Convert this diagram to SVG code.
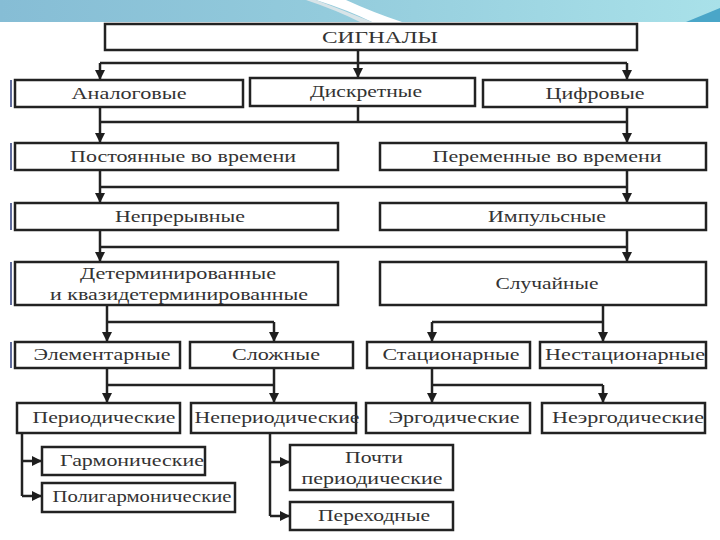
<svg xmlns="http://www.w3.org/2000/svg" width="720" height="540" viewBox="0 0 720 540">
<defs>
<linearGradient id="bg" x1="0" y1="0" x2="1" y2="0">
<stop offset="0" stop-color="#86bdd5"/>
<stop offset="0.45" stop-color="#93cbdc"/>
<stop offset="1" stop-color="#a9e1e9"/>
</linearGradient>
<marker id="ah" viewBox="0 0 10 10" refX="10" refY="5" markerWidth="10" markerHeight="11" markerUnits="userSpaceOnUse" orient="auto">
<path d="M0,0 L10,5 L0,10 z" fill="#1e1e1e"/>
</marker>
<style>
.box{fill:#fff;stroke:#222;stroke-width:2.5}
.t{font-family:"Liberation Serif","Times New Roman",serif;font-size:17px;fill:#333;text-anchor:middle}
.c{fill:none;stroke:#222;stroke-width:2.5}
.a{fill:none;stroke:#222;stroke-width:2.5;marker-end:url(#ah)}
.bar{stroke:#2a3a7a;stroke-width:1.5}
</style>
</defs>
<rect width="720" height="540" fill="#fff"/>
<g id="banner">
<rect x="0" y="0" width="720" height="22" fill="url(#bg)"/>
<path d="M316,0 L346,0 Q372,12 402,22 L372,22 Q348,10 316,0 z" fill="#ffffff"/>
<path d="M306,0 L316,0 Q345,11 372,22 L360,22 Q336,10 306,0 z" fill="#d8e4e8"/>
<path d="M686,22 L720,8 L720,22 z" fill="#4aa6c8"/>
</g>
<g id="bars">
<line class="bar" x1="11" y1="80" x2="11" y2="107"/>
<line class="bar" x1="11" y1="143" x2="11" y2="170"/>
<line class="bar" x1="11" y1="203" x2="11" y2="230"/>
<line class="bar" x1="11" y1="262" x2="11" y2="305"/>
<line class="bar" x1="11" y1="342" x2="11" y2="368"/>
</g>
<g id="connectors">
<path class="c" d="M358,50 V63 M100,63 H627"/>
<path class="a" d="M100,63 V80"/>
<path class="a" d="M358,63 V78"/>
<path class="a" d="M627,63 V80"/>
<path class="c" d="M100,107 V122 M358,106 V122 M627,107 V122 M100,122 H627"/>
<path class="a" d="M100,122 V143"/>
<path class="a" d="M627,122 V143"/>
<path class="c" d="M100,170 V187 M627,170 V187 M100,187 H627"/>
<path class="a" d="M100,187 V203"/>
<path class="a" d="M627,187 V203"/>
<path class="c" d="M100,230 V247 M627,230 V247 M100,247 H627"/>
<path class="a" d="M100,247 V262"/>
<path class="a" d="M627,247 V262"/>
<path class="c" d="M107,322 H274"/>
<path class="a" d="M107,305 V342"/>
<path class="a" d="M274,322 V342"/>
<path class="c" d="M432,322 H603"/>
<path class="a" d="M603,305 V342"/>
<path class="a" d="M432,322 V342"/>
<path class="c" d="M107,385 H274"/>
<path class="a" d="M107,368 V403"/>
<path class="a" d="M274,368 V403"/>
<path class="c" d="M432,385 H603"/>
<path class="a" d="M432,368 V403"/>
<path class="a" d="M603,385 V403"/>
<path class="c" d="M22,433 V496"/>
<path class="a" d="M22,461 H42"/>
<path class="a" d="M22,496 H42"/>
<path class="c" d="M270,433 V516"/>
<path class="a" d="M270,462 H290"/>
<path class="a" d="M270,516 H290"/>
</g>
<g id="n-signals"><rect class="box" x="105" y="24" width="532" height="26"/><text class="t" x="380" y="43" textLength="116" lengthAdjust="spacingAndGlyphs">СИГНАЛЫ</text></g>
<g id="n-analog"><rect class="box" x="15" y="80" width="228" height="27"/><text class="t" x="129" y="99" textLength="115" lengthAdjust="spacingAndGlyphs">Аналоговые</text></g>
<g id="n-discrete"><rect class="box" x="250" y="78" width="225" height="28"/><text class="t" x="366" y="97" textLength="112" lengthAdjust="spacingAndGlyphs">Дискретные</text></g>
<g id="n-digital"><rect class="box" x="483" y="80" width="224" height="27"/><text class="t" x="595" y="99" textLength="99" lengthAdjust="spacingAndGlyphs">Цифровые</text></g>
<g id="n-const"><rect class="box" x="15" y="143" width="323" height="27"/><text class="t" x="183" y="162" textLength="226" lengthAdjust="spacingAndGlyphs">Постоянные во времени</text></g>
<g id="n-var"><rect class="box" x="380" y="143" width="326" height="27"/><text class="t" x="547" y="162" textLength="229" lengthAdjust="spacingAndGlyphs">Переменные во времени</text></g>
<g id="n-cont"><rect class="box" x="15" y="203" width="323" height="27"/><text class="t" x="180" y="222" textLength="130" lengthAdjust="spacingAndGlyphs">Непрерывные</text></g>
<g id="n-pulse"><rect class="box" x="380" y="203" width="326" height="27"/><text class="t" x="547" y="222" textLength="118" lengthAdjust="spacingAndGlyphs">Импульсные</text></g>
<g id="n-determ"><rect class="box" x="15" y="262" width="323" height="43"/><text class="t" x="178" y="279" textLength="196" lengthAdjust="spacingAndGlyphs">Детерминированные</text><text class="t" x="179" y="300" textLength="258" lengthAdjust="spacingAndGlyphs">и квазидетерминированные</text></g>
<g id="n-random"><rect class="box" x="380" y="262" width="326" height="43"/><text class="t" x="547" y="289" textLength="103" lengthAdjust="spacingAndGlyphs">Случайные</text></g>
<g id="n-elem"><rect class="box" x="15" y="342" width="165" height="26"/><text class="t" x="102" y="360" textLength="137" lengthAdjust="spacingAndGlyphs">Элементарные</text></g>
<g id="n-complex"><rect class="box" x="190" y="342" width="163" height="26"/><text class="t" x="276" y="360" textLength="88" lengthAdjust="spacingAndGlyphs">Сложные</text></g>
<g id="n-stat"><rect class="box" x="367" y="342" width="163" height="26"/><text class="t" x="451" y="360" textLength="137" lengthAdjust="spacingAndGlyphs">Стационарные</text></g>
<g id="n-nonstat"><rect class="box" x="540" y="342" width="166" height="26"/><text class="t" x="625" y="360" textLength="160" lengthAdjust="spacingAndGlyphs">Нестационарные</text></g>
<g id="n-period"><rect class="box" x="17" y="403" width="163" height="30"/><text class="t" x="104" y="423" textLength="143" lengthAdjust="spacingAndGlyphs">Периодические</text></g>
<g id="n-nonperiod"><rect class="box" x="191" y="403" width="165" height="30"/><text class="t" x="277" y="423" textLength="165" lengthAdjust="spacingAndGlyphs">Непериодические</text></g>
<g id="n-ergod"><rect class="box" x="366" y="403" width="164" height="30"/><text class="t" x="454" y="423" textLength="131" lengthAdjust="spacingAndGlyphs">Эргодические</text></g>
<g id="n-nonergod"><rect class="box" x="542" y="403" width="163" height="30"/><text class="t" x="628" y="423" textLength="152" lengthAdjust="spacingAndGlyphs">Неэргодические</text></g>
<g id="n-harm"><rect class="box" x="42" y="447" width="163" height="28"/><text class="t" x="132" y="466" textLength="144" lengthAdjust="spacingAndGlyphs">Гармонические</text></g>
<g id="n-polyharm"><rect class="box" x="42" y="483" width="193" height="29"/><text class="t" x="142" y="502" textLength="179" lengthAdjust="spacingAndGlyphs">Полигармонические</text></g>
<g id="n-almost"><rect class="box" x="290" y="445" width="163" height="45"/><text class="t" x="374" y="463" textLength="58" lengthAdjust="spacingAndGlyphs">Почти</text><text class="t" x="372" y="484" textLength="141" lengthAdjust="spacingAndGlyphs">периодические</text></g>
<g id="n-trans"><rect class="box" x="290" y="502" width="163" height="28"/><text class="t" x="374" y="521" textLength="112" lengthAdjust="spacingAndGlyphs">Переходные</text></g>
</svg>
